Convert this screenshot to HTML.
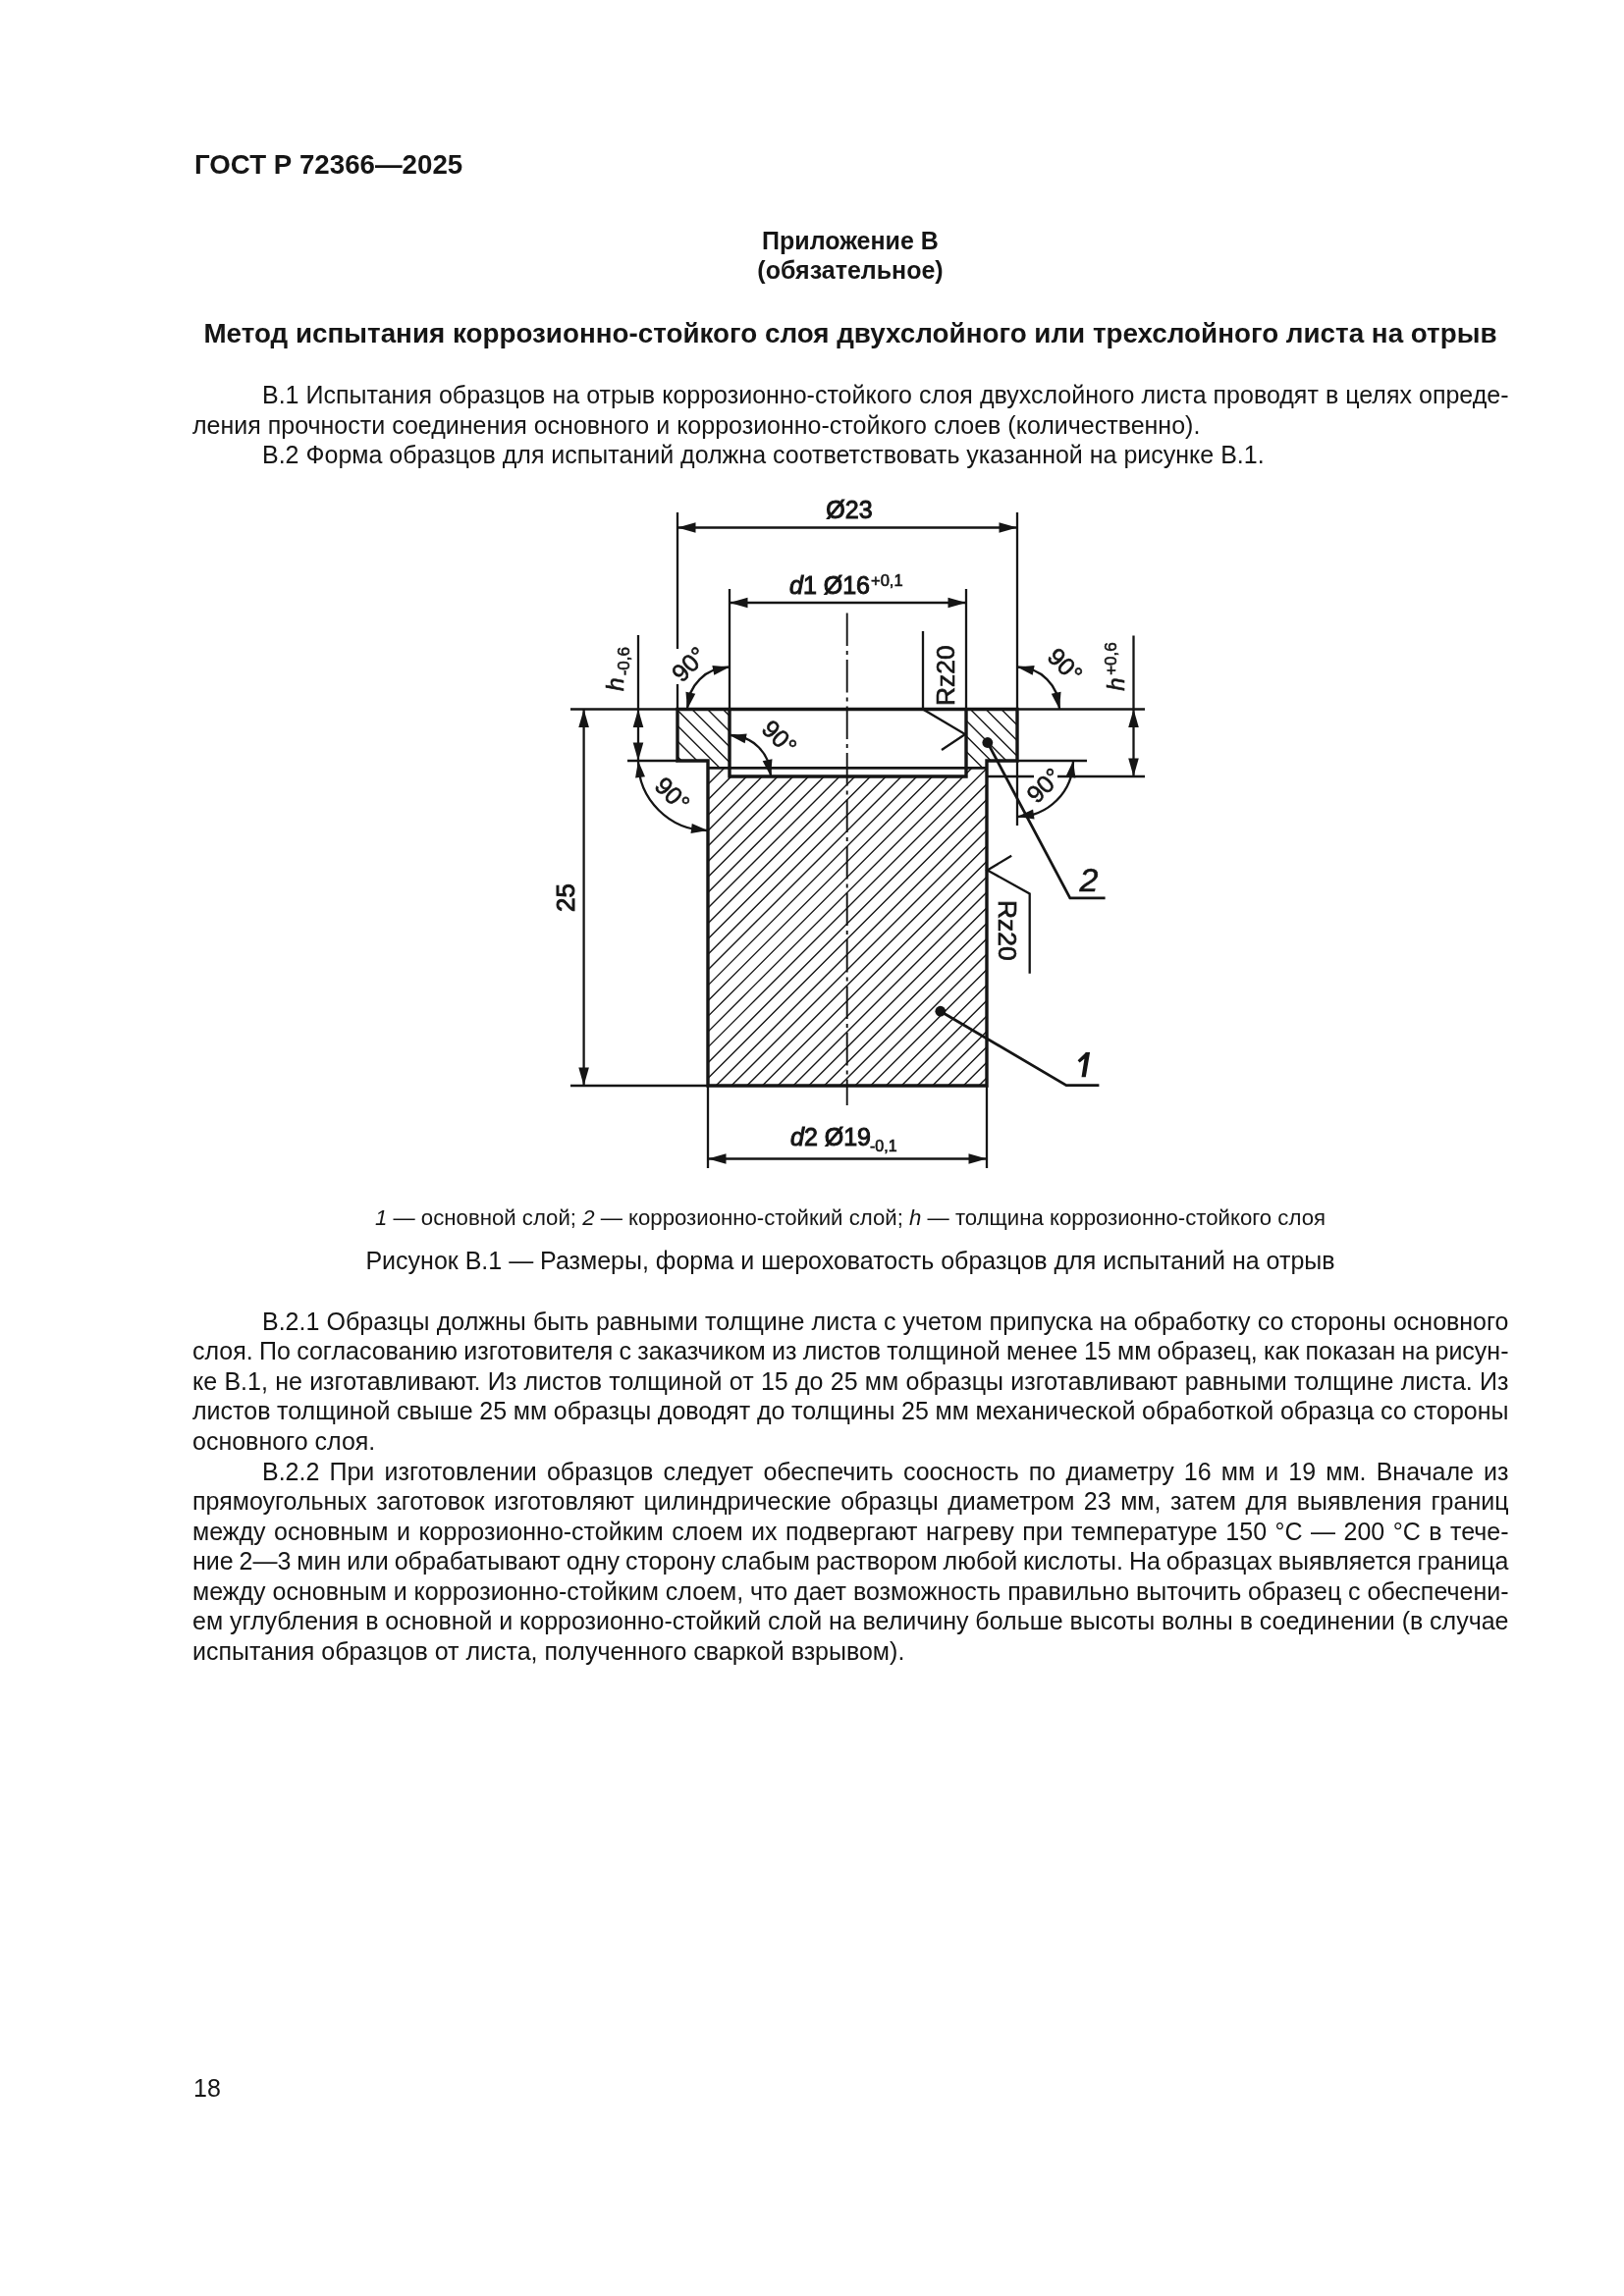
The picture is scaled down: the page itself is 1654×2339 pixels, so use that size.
<!DOCTYPE html>
<html lang="ru"><head><meta charset="utf-8"><title>ГОСТ Р 72366—2025</title>
<style>
html,body{margin:0;padding:0;background:#fff;}
body{width:1654px;height:2339px;position:relative;overflow:hidden;font-family:"Liberation Sans", sans-serif;color:#151515;}
.t{position:absolute;white-space:nowrap;line-height:1.117;will-change:transform;}
.dr{position:absolute;left:0;top:0;font-family:"Liberation Sans", sans-serif;}
</style></head><body>
<div class="t" style="left:197.5px;top:152.7px;font-size:27.7px;font-weight:700;">ГОСТ Р 72366—2025</div>
<div class="t" style="left:366.0px;top:232.4px;font-size:25px;font-weight:700;width:1000.0px;text-align:center;">Приложение В</div>
<div class="t" style="left:366.0px;top:262.2px;font-size:25px;font-weight:700;width:1000.0px;text-align:center;">(обязательное)</div>
<div class="t" style="left:166.0px;top:324.0px;font-size:27.8px;font-weight:700;width:1400.0px;text-align:center;">Метод испытания коррозионно-стойкого слоя двухслойного или трехслойного листа на отрыв</div>
<div class="t" style="left:267.0px;top:389.1px;font-size:25px;width:1269.5px;text-align:justify;text-align-last:justify;word-spacing:-4px;">В.1 Испытания образцов на отрыв коррозионно-стойкого слоя двухслойного листа проводят в целях опреде-</div>
<div class="t" style="left:196.0px;top:420.0px;font-size:25px;">ления прочности соединения основного и коррозионно-стойкого слоев (количественно).</div>
<div class="t" style="left:267.0px;top:450.0px;font-size:25px;">В.2 Форма образцов для испытаний должна соответствовать указанной на рисунке В.1.</div>
<div class="t" style="left:366.0px;top:1229.4px;font-size:22.2px;width:1000.0px;text-align:center;"><i>1</i> — основной слой; <i>2</i> — коррозионно-стойкий слой; <i>h</i> — толщина коррозионно-стойкого слоя</div>
<div class="t" style="left:366.0px;top:1271.4px;font-size:25px;width:1000.0px;text-align:center;">Рисунок В.1 — Размеры, форма и шероховатость образцов для испытаний на отрыв</div>
<div class="t" style="left:267.0px;top:1332.9px;font-size:25px;width:1269.5px;text-align:justify;text-align-last:justify;word-spacing:-4px;">В.2.1 Образцы должны быть равными толщине листа с учетом припуска на обработку со стороны основного</div>
<div class="t" style="left:196.0px;top:1363.4px;font-size:25px;width:1340.5px;text-align:justify;text-align-last:justify;word-spacing:-4px;">слоя. По согласованию изготовителя с заказчиком из листов толщиной менее 15 мм образец, как показан на рисун-</div>
<div class="t" style="left:196.0px;top:1393.9px;font-size:25px;width:1340.5px;text-align:justify;text-align-last:justify;word-spacing:-4px;">ке В.1, не изготавливают. Из листов толщиной от 15 до 25 мм образцы изготавливают равными толщине листа. Из</div>
<div class="t" style="left:196.0px;top:1424.4px;font-size:25px;width:1340.5px;text-align:justify;text-align-last:justify;word-spacing:-4px;">листов толщиной свыше 25 мм образцы доводят до толщины 25 мм механической обработкой образца со стороны</div>
<div class="t" style="left:196.0px;top:1454.9px;font-size:25px;">основного слоя.</div>
<div class="t" style="left:267.0px;top:1485.7px;font-size:25px;width:1269.5px;text-align:justify;text-align-last:justify;word-spacing:-4px;">В.2.2 При изготовлении образцов следует обеспечить соосность по диаметру 16 мм и 19 мм. Вначале из</div>
<div class="t" style="left:196.0px;top:1516.2px;font-size:25px;width:1340.5px;text-align:justify;text-align-last:justify;word-spacing:-4px;">прямоугольных заготовок изготовляют цилиндрические образцы диаметром 23 мм, затем для выявления границ</div>
<div class="t" style="left:196.0px;top:1546.7px;font-size:25px;width:1340.5px;text-align:justify;text-align-last:justify;word-spacing:-4px;">между основным и коррозионно-стойким слоем их подвергают нагреву при температуре 150 °С — 200 °С в тече-</div>
<div class="t" style="left:196.0px;top:1577.2px;font-size:25px;width:1340.5px;text-align:justify;text-align-last:justify;word-spacing:-4px;">ние 2—3 мин или обрабатывают одну сторону слабым раствором любой кислоты. На образцах выявляется граница</div>
<div class="t" style="left:196.0px;top:1607.7px;font-size:25px;width:1340.5px;text-align:justify;text-align-last:justify;word-spacing:-4px;">между основным и коррозионно-стойким слоем, что дает возможность правильно выточить образец с обеспечени-</div>
<div class="t" style="left:196.0px;top:1638.2px;font-size:25px;width:1340.5px;text-align:justify;text-align-last:justify;word-spacing:-4px;">ем углубления в основной и коррозионно-стойкий слой на величину больше высоты волны в соединении (в случае</div>
<div class="t" style="left:196.0px;top:1668.7px;font-size:25px;">испытания образцов от листа, полученного сваркой взрывом).</div>
<div class="t" style="left:197.0px;top:2114.4px;font-size:25px;">18</div>

<svg class="dr" width="1654" height="2339" viewBox="0 0 1654 2339" stroke="#151515" fill="#151515" stroke-linecap="butt"><defs><clipPath id="c2"><path d="M690 722.5H743V782.4H721V775H690Z M984 722.5H1036V775H1005V782.4H984Z"/></clipPath><clipPath id="c1"><path d="M721 782.4H743V791H984V782.4H1005V1106H721Z"/></clipPath></defs><path clip-path="url(#c2)" fill="none" stroke-width="1.4" d="M680 367.00L1050 737.00M680 382.75L1050 752.75M680 398.50L1050 768.50M680 414.25L1050 784.25M680 430.00L1050 800.00M680 445.75L1050 815.75M680 461.50L1050 831.50M680 477.25L1050 847.25M680 493.00L1050 863.00M680 508.75L1050 878.75M680 524.50L1050 894.50M680 540.25L1050 910.25M680 556.00L1050 926.00M680 571.75L1050 941.75M680 587.50L1050 957.50M680 603.25L1050 973.25M680 619.00L1050 989.00M680 634.75L1050 1004.75M680 650.50L1050 1020.50M680 666.25L1050 1036.25M680 682.00L1050 1052.00M680 697.75L1050 1067.75M680 713.50L1050 1083.50M680 729.25L1050 1099.25M680 745.00L1050 1115.00M680 760.75L1050 1130.75M680 776.50L1050 1146.50M680 792.25L1050 1162.25M680 808.00L1050 1178.00M680 823.75L1050 1193.75M680 839.50L1050 1209.50M680 855.25L1050 1225.25M680 871.00L1050 1241.00M680 886.75L1050 1256.75M680 902.50L1050 1272.50M680 918.25L1050 1288.25M680 934.00L1050 1304.00M680 949.75L1050 1319.75M680 965.50L1050 1335.50M680 981.25L1050 1351.25"/><path clip-path="url(#c1)" fill="none" stroke-width="1.4" d="M700 568.00L1030 238.00M700 583.75L1030 253.75M700 599.51L1030 269.51M700 615.26L1030 285.26M700 631.02L1030 301.02M700 646.77L1030 316.77M700 662.52L1030 332.52M700 678.28L1030 348.28M700 694.03L1030 364.03M700 709.79L1030 379.79M700 725.54L1030 395.54M700 741.29L1030 411.29M700 757.05L1030 427.05M700 772.80L1030 442.80M700 788.56L1030 458.56M700 804.31L1030 474.31M700 820.06L1030 490.06M700 835.82L1030 505.82M700 851.57L1030 521.57M700 867.33L1030 537.33M700 883.08L1030 553.08M700 898.83L1030 568.83M700 914.59L1030 584.59M700 930.34L1030 600.34M700 946.10L1030 616.10M700 961.85L1030 631.85M700 977.60L1030 647.60M700 993.36L1030 663.36M700 1009.11L1030 679.11M700 1024.87L1030 694.87M700 1040.62L1030 710.62M700 1056.37L1030 726.37M700 1072.13L1030 742.13M700 1087.88L1030 757.88M700 1103.64L1030 773.64M700 1119.39L1030 789.39M700 1135.14L1030 805.14M700 1150.90L1030 820.90M700 1166.65L1030 836.65M700 1182.41L1030 852.41M700 1198.16L1030 868.16M700 1213.91L1030 883.91M700 1229.67L1030 899.67M700 1245.42L1030 915.42M700 1261.18L1030 931.18M700 1276.93L1030 946.93M700 1292.68L1030 962.68M700 1308.44L1030 978.44M700 1324.19L1030 994.19M700 1339.95L1030 1009.95M700 1355.70L1030 1025.70M700 1371.45L1030 1041.45M700 1387.21L1030 1057.21M700 1402.96L1030 1072.96M700 1418.72L1030 1088.72M700 1434.47L1030 1104.47M700 1450.22L1030 1120.22M700 1465.98L1030 1135.98M700 1481.73L1030 1151.73M700 1497.49L1030 1167.49M700 1513.24L1030 1183.24M700 1528.99L1030 1198.99M700 1544.75L1030 1214.75M700 1560.50L1030 1230.50M700 1576.26L1030 1246.26M700 1592.01L1030 1262.01M700 1607.76L1030 1277.76M700 1623.52L1030 1293.52M700 1639.27L1030 1309.27M700 1655.03L1030 1325.03M700 1670.78L1030 1340.78M700 1686.53L1030 1356.53M700 1702.29L1030 1372.29M700 1718.04L1030 1388.04M700 1733.80L1030 1403.80M700 1749.55L1030 1419.55M700 1765.30L1030 1435.30M700 1781.06L1030 1451.06M700 1796.81L1030 1466.81M700 1812.57L1030 1482.57M700 1828.32L1030 1498.32M700 1844.07L1030 1514.07M700 1859.83L1030 1529.83M700 1875.58L1030 1545.58M700 1891.34L1030 1561.34M700 1907.09L1030 1577.09M700 1922.84L1030 1592.84M700 1938.60L1030 1608.60M700 1954.35L1030 1624.35M700 1970.11L1030 1640.11"/><path fill="none" stroke-width="3.4" stroke-linejoin="miter" stroke-linecap="square" d="M690 722.5H1036V775H1005V1106H721V775H690Z M743 722.5V791H984V722.5"/><line x1="721" y1="782.4" x2="1005" y2="782.4" stroke-width="2.6" /><line x1="581" y1="722.5" x2="690" y2="722.5" stroke-width="2.3" /><line x1="1036" y1="722.5" x2="1166" y2="722.5" stroke-width="2.3" /><line x1="581" y1="1106" x2="721" y2="1106" stroke-width="2.3" /><line x1="639" y1="775" x2="690" y2="775" stroke-width="2.3" /><line x1="1036" y1="775" x2="1107" y2="775" stroke-width="2.3" /><line x1="1005" y1="791" x2="1053" y2="791" stroke-width="2.3" /><line x1="1077" y1="791" x2="1166" y2="791" stroke-width="2.3" /><line x1="690" y1="522" x2="690" y2="661" stroke-width="2.3" /><line x1="690" y1="697" x2="690" y2="722.5" stroke-width="2.3" /><line x1="1036" y1="522" x2="1036" y2="722.5" stroke-width="2.3" /><line x1="1036" y1="775" x2="1036" y2="841" stroke-width="2.3" /><line x1="743" y1="600" x2="743" y2="722.5" stroke-width="2.3" /><line x1="984" y1="600" x2="984" y2="722.5" stroke-width="2.3" /><line x1="721" y1="1106" x2="721" y2="1190" stroke-width="2.3" /><line x1="1005" y1="1106" x2="1005" y2="1190" stroke-width="2.3" /><line x1="862.7" y1="624.4" x2="862.7" y2="1126" stroke-width="1.9" stroke-dasharray="33.5 5.1 4 4.9"/><line x1="690" y1="537.5" x2="1036" y2="537.5" stroke-width="2.3" /><path d="M690.00 537.50L708.50 532.20L708.50 542.80Z" stroke="none"/><path d="M1036.00 537.50L1017.50 542.80L1017.50 532.20Z" stroke="none"/><line x1="743" y1="614" x2="984" y2="614" stroke-width="2.3" /><path d="M743.00 614.00L761.50 608.70L761.50 619.30Z" stroke="none"/><path d="M984.00 614.00L965.50 619.30L965.50 608.70Z" stroke="none"/><line x1="721" y1="1180.5" x2="1005" y2="1180.5" stroke-width="2.3" /><path d="M721.00 1180.50L739.50 1175.20L739.50 1185.80Z" stroke="none"/><path d="M1005.00 1180.50L986.50 1185.80L986.50 1175.20Z" stroke="none"/><line x1="594.6" y1="722.5" x2="594.6" y2="1106" stroke-width="2.3" /><path d="M594.60 722.50L599.90 741.00L589.30 741.00Z" stroke="none"/><path d="M594.60 1106.00L589.30 1087.50L599.90 1087.50Z" stroke="none"/><line x1="650" y1="647" x2="650" y2="775" stroke-width="2.3" /><path d="M650.00 722.50L655.30 741.00L644.70 741.00Z" stroke="none"/><path d="M650.00 775.00L644.70 756.50L655.30 756.50Z" stroke="none"/><line x1="1154.5" y1="647.5" x2="1154.5" y2="791" stroke-width="2.3" /><path d="M1154.50 722.50L1159.80 741.00L1149.20 741.00Z" stroke="none"/><path d="M1154.50 791.00L1149.20 772.50L1159.80 772.50Z" stroke="none"/><path fill="none" stroke-width="2.3" d="M700.00 722.50A43 43 0 0 1 743.00 679.50"/><path d="M700.00 722.50L698.44 704.85L708.24 706.81Z" stroke="none"/><path d="M743.00 679.50L727.31 687.74L725.35 677.94Z" stroke="none"/><path fill="none" stroke-width="2.3" d="M743.00 749.00A42 42 0 0 1 785.00 791.00"/><path d="M743.00 749.00L760.66 747.52L758.65 757.31Z" stroke="none"/><path d="M785.00 791.00L776.69 775.35L786.48 773.34Z" stroke="none"/><path fill="none" stroke-width="2.3" d="M721.00 846.00A71 71 0 0 1 650.00 775.00"/><path d="M721.00 846.00L703.52 848.93L704.72 839.01Z" stroke="none"/><path d="M650.00 775.00L656.99 791.28L647.07 792.48Z" stroke="none"/><path fill="none" stroke-width="2.3" d="M1036.00 679.50A43 43 0 0 1 1079.00 722.50"/><path d="M1036.00 679.50L1053.65 677.94L1051.69 687.74Z" stroke="none"/><path d="M1079.00 722.50L1070.76 706.81L1080.56 704.85Z" stroke="none"/><path fill="none" stroke-width="2.3" d="M1093.00 775.00A57 57 0 0 1 1036.00 832.00"/><path d="M1093.00 775.00L1095.42 792.55L1085.53 791.07Z" stroke="none"/><path d="M1036.00 832.00L1052.07 824.53L1053.55 834.42Z" stroke="none"/><path fill="none" stroke-width="2.3" d="M940 643V722.5L983 748L959 764"/><path fill="none" stroke-width="2.3" d="M1030.2 871.7L1005.6 886.5L1048.7 910.5V991.8"/><circle cx="1005.8" cy="756.5" r="5.4" stroke="none"/><path fill="none" stroke-width="2.8" d="M1005.8 756.5L1089.8 914.8H1125.6"/><circle cx="957.8" cy="1030.2" r="5.4" stroke="none"/><path fill="none" stroke-width="2.8" d="M957.8 1030.2L1086 1105.6H1119.4"/><text class="dt" x="865" y="528.3" font-size="25" font-weight="400" text-anchor="middle" stroke-width="1.0">Ø23</text><text class="dt" x="804" y="604.7" font-size="25" font-weight="400" text-anchor="start" stroke-width="1.0"><tspan font-style="italic">d</tspan>1 Ø16<tspan font-size="16.5" dy="-8" dx="1" stroke-width="0.6">+0,1</tspan></text><text class="dt" x="805" y="1166.5" font-size="25" font-weight="400" text-anchor="start" stroke-width="1.0"><tspan font-style="italic">d</tspan>2 Ø19<tspan font-size="16" dy="6" dx="-1" stroke-width="0.6">-0,1</tspan></text><text class="dt" x="585" y="914.5" font-size="26" font-weight="400" text-anchor="middle" transform="rotate(-90 585 914.5)" stroke-width="1.0">25</text><text class="dt" x="972" y="688.2" font-size="26.4" font-weight="400" text-anchor="middle" transform="rotate(-90 972 688.2)" stroke-width="0.6">Rz20</text><text class="dt" x="1016.5" y="947.8" font-size="26.4" font-weight="400" text-anchor="middle" transform="rotate(90 1016.5 947.8)" stroke-width="0.7">Rz20</text><text class="dt" x="1109" y="908" font-size="34" font-weight="400" font-style="italic" text-anchor="middle" stroke-width="0.6">2</text><path stroke="none" d="M1105.5 1072L1110.1 1072L1105.8 1097.2L1101.5 1097.2Z M1105.6 1072.6L1108 1075.8L1099.6 1082.6L1097.6 1080.2Z"/><text class="dt" x="635" y="681.5" font-size="25" font-weight="400" text-anchor="middle" transform="rotate(-90 635 681.5)" stroke-width="0.6"><tspan font-style="italic" font-size="24.5">h</tspan><tspan font-size="17" dy="6" dx="2">-0,6</tspan></text><text class="dt" x="1145" y="679" font-size="25" font-weight="400" text-anchor="middle" transform="rotate(-90 1145 679)" stroke-width="0.6"><tspan font-style="italic" font-size="24">h</tspan><tspan font-size="17" dy="-8" dx="2.5">+0,6</tspan></text><g transform="translate(701.5 676.5) rotate(-45)"><text class="dt" x="0" y="9" font-size="25" font-weight="400" text-anchor="middle" stroke-width="0.6">90°</text></g><g transform="translate(794 751) rotate(45)"><text class="dt" x="0" y="9" font-size="25" font-weight="400" text-anchor="middle" stroke-width="0.6">90°</text></g><g transform="translate(685 809) rotate(45)"><text class="dt" x="0" y="9" font-size="25" font-weight="400" text-anchor="middle" stroke-width="0.6">90°</text></g><g transform="translate(1085 677.5) rotate(45)"><text class="dt" x="0" y="9" font-size="25" font-weight="400" text-anchor="middle" stroke-width="0.6">90°</text></g><g transform="translate(1063 800) rotate(-45)"><text class="dt" x="0" y="9" font-size="25" font-weight="400" text-anchor="middle" stroke-width="0.6">90°</text></g></svg>
</body></html>
